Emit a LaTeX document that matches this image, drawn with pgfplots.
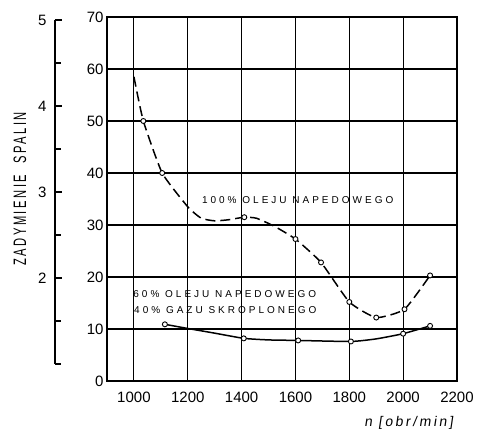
\documentclass[border=0pt]{standalone}
\usepackage{fontspec}
\setmainfont{Liberation Sans}
\newfontfamily\lettering[LetterSpace=30]{Liberation Sans}
\newfontfamily\axlet[FakeSlant=0.15,LetterSpace=18]{Liberation Sans}
\newfontfamily\narrowlet[FakeStretch=0.62,LetterSpace=14]{Liberation Sans}
\usepackage{pgfplots}
\pgfplotsset{compat=1.18}

\begin{document}
\begin{tikzpicture}
\useasboundingbox (-107pt,-50pt) rectangle (375pt,381pt);

% main axis: smoke vs. engine speed
\begin{axis}[
  at={(0pt,0pt)}, anchor=south west,
  scale only axis, width=350pt, height=364pt,
  xmin=900, xmax=2200, ymin=0, ymax=70,
  xtick={1000,1200,...,2200}, ytick={0,10,...,70},
  grid=major, major grid style={black, line width=1.1pt},
  axis line style={line width=1.7pt},
  major tick length=0pt,
  tick label style={font=\fontsize{15}{17}\selectfont},
  /pgf/number format/assume math mode=true,
  /pgf/number format/1000 sep={},
  xticklabel style={yshift=-7pt},
  xlabel={n [obr/min]},
  xlabel style={at={(rel axis cs:0.862,0)}, anchor=center, yshift=-42pt,
    font=\fontsize{14}{16}\axlet},
  clip=false,
]
% 100% oleju napedowego
\addplot[black, line width=1.5pt, dash pattern=on 10pt off 5pt, smooth, tension=0.3]
  coordinates {
  (1000,58.5) (1035,50) (1105,40) (1200,33.5) (1250,31.3) (1300,30.8)
  (1350,31) (1410,31.5) (1455,31.3) (1520,29.8) (1600,27.3) (1695,22.8)
  (1800,15.2) (1900,12.2) (2005,13.8) (2100,20.3)
};
\addplot[only marks, mark=*, mark size=2.5pt,
  mark options={fill=white, draw=black, line width=0.9pt}]
  coordinates {
  (1035,50) (1105,40) (1410,31.5) (1600,27.3) (1695,22.8)
  (1800,15.2) (1900,12.2) (2005,13.8) (2100,20.3)
};
% 60% oleju napedowego + 40% gazu skroplonego
\addplot[black, line width=1.5pt, smooth, tension=0.3]
  coordinates {
  (1115,10.9) (1200,10.1) (1300,9.2) (1408,8.2) (1500,7.9) (1610,7.8)
  (1806,7.6) (1900,8.1) (2000,9.1) (2100,10.6)
};
\addplot[only marks, mark=*, mark size=2.5pt,
  mark options={fill=white, draw=black, line width=0.9pt}]
  coordinates {
  (1115,10.9) (1408,8.2) (1610,7.8) (1806,7.6) (2000,9.1) (2100,10.6)
};
\node[anchor=west, font=\fontsize{10}{12}\lettering] at (axis cs:1240,34.8)
  {100\% OLEJU NAPEDOWEGO};
\node[anchor=west, font=\fontsize{10}{12}\lettering] at (axis cs:985,16.8)
  {60\% OLEJU NAPEDOWEGO};
\node[anchor=west, font=\fontsize{10}{12}\lettering] at (axis cs:988,13.6)
  {40\% GAZU SKROPLONEGO};
\end{axis}

% secondary scale on the left
\begin{axis}[
  at={(-52pt,17pt)}, anchor=south west,
  scale only axis, width=1pt, height=344pt,
  xmin=0, xmax=1, ymin=1, ymax=5,
  axis x line=none, axis y line*=left,
  axis line style={line width=1.5pt},
  ytick={2,3,4,5}, minor ytick={1,1.5,2.5,3.5,4.5},
  tick align=inside, major tick length=7pt, minor tick length=6pt,
  tick style={line width=1.2pt, black},
  tick label style={font=\fontsize{15}{17}\selectfont},
  /pgf/number format/assume math mode=true,
  yticklabel style={xshift=-5pt},
]
\end{axis}

\node[rotate=90, font=\fontsize{18}{20}\narrowlet] at (-87pt,192pt)
  {ZADYMIENIE\ \ SPALIN};
\end{tikzpicture}
\end{document}
